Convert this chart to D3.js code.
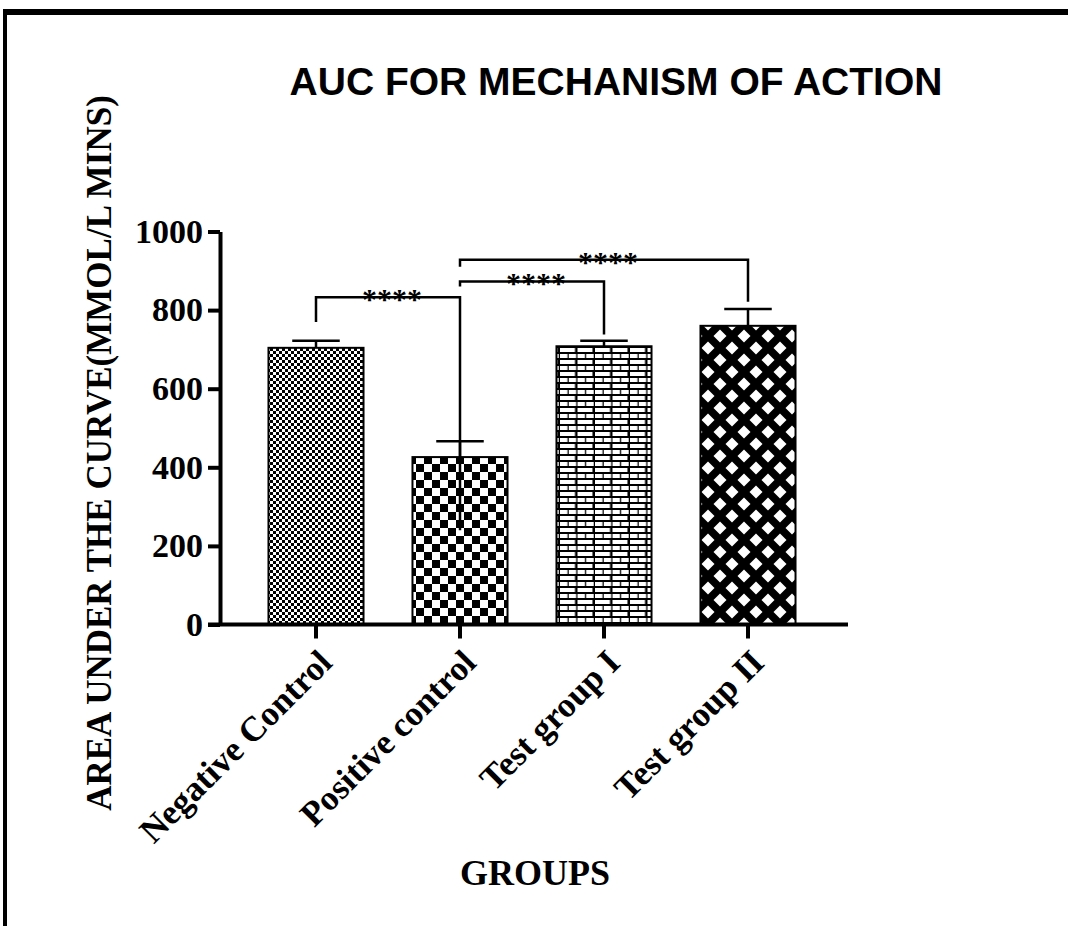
<!DOCTYPE html>
<html>
<head>
<meta charset="utf-8">
<script src="https://cdn.jsdelivr.net/npm/d3@7"></script>
<style>
  html, body { margin: 0; padding: 0; background: #fff; }
  svg { display: block; }
</style>
</head>
<body>
<svg id="chart" width="1068" height="926"></svg>
<script>
// Group means and SEM of area under the glucose curve
const groups = ["Negative Control", "Positive control", "Test group I", "Test group II"];
const means = [704, 426, 708, 760];
const sems = [18, 40, 14, 43];
const yTicks = [0, 200, 400, 600, 800, 1000];
const patterns = ["fineCheck", "bigCheck", "brick", "lattice"];

// Significance brackets: pair of groups, bracket height and leg ends (data units)
const compA = [0, 1, 1];
const compB = [1, 2, 3];
const compLevel = [833, 873, 928];
const compLegA = [770, 860, 910];
const compLegB = [240, 738, 821];
const compLabel = ["****", "****", "****"];

const svg = d3.select("#chart");
const W = 1068, H = 926;
const serif = "'Liberation Serif', 'Times New Roman', serif";
const sans = "'Liberation Sans', Arial, sans-serif";

// Frame lines along the top and left edges
svg.append("rect").attr("x", 3).attr("y", 9).attr("width", W - 3).attr("height", 6).attr("fill", "#000");
svg.append("rect").attr("x", 3).attr("y", 9).attr("width", 4).attr("height", H - 9).attr("fill", "#000");

// Fill patterns
const defs = svg.append("defs");
{
  const p = defs.append("pattern").attr("id", "fineCheck").attr("patternUnits", "userSpaceOnUse")
    .attr("width", 6).attr("height", 6);
  p.append("rect").attr("width", 6).attr("height", 6).attr("fill", "#fff");
  p.append("rect").attr("width", 3).attr("height", 3).attr("fill", "#000");
  p.append("rect").attr("x", 3).attr("y", 3).attr("width", 3).attr("height", 3).attr("fill", "#000");
}
{
  const p = defs.append("pattern").attr("id", "bigCheck").attr("patternUnits", "userSpaceOnUse")
    .attr("width", 16).attr("height", 16);
  p.append("rect").attr("width", 16).attr("height", 16).attr("fill", "#fff");
  p.append("rect").attr("width", 8).attr("height", 8).attr("fill", "#000");
  p.append("rect").attr("x", 8).attr("y", 8).attr("width", 8).attr("height", 8).attr("fill", "#000");
}
{
  const bw = 17.5, rh = 6;
  const p = defs.append("pattern").attr("id", "brick").attr("patternUnits", "userSpaceOnUse")
    .attr("width", bw).attr("height", rh * 2);
  p.append("rect").attr("width", bw).attr("height", rh * 2).attr("fill", "#000");
  p.append("rect").attr("x", 0).attr("y", 0).attr("width", bw - 2.5).attr("height", rh - 2).attr("fill", "#fff");
  p.append("rect").attr("x", bw / 2).attr("y", rh).attr("width", bw / 2 - 1.25).attr("height", rh - 2).attr("fill", "#fff");
  p.append("rect").attr("x", 0).attr("y", rh).attr("width", bw / 2 - 1.25).attr("height", rh - 2).attr("fill", "#fff");
}
{
  const s = 24, r = 6.5;
  const p = defs.append("pattern").attr("id", "lattice").attr("patternUnits", "userSpaceOnUse")
    .attr("width", s).attr("height", s);
  p.append("rect").attr("width", s).attr("height", s).attr("fill", "#000");
  const diamond = (cx, cy) => `M${cx},${cy - r}L${cx + r},${cy}L${cx},${cy + r}L${cx - r},${cy}Z`;
  [[s / 2, s / 2], [0, 0], [s, 0], [0, s], [s, s]].forEach(([cx, cy]) =>
    p.append("path").attr("d", diamond(cx, cy)).attr("fill", "#fff"));
}

// Scales
const axisX = 220;
const x = d3.scaleBand().domain(groups).range([244, 820]).paddingInner(0.34).paddingOuter(0.17);
const y = d3.scaleLinear().domain([0, 1000]).range([624.5, 231.5]);

// Bars
svg.append("g").selectAll("rect").data(groups).join("rect")
  .attr("x", d => x(d))
  .attr("y", (d, i) => y(means[i]))
  .attr("width", x.bandwidth())
  .attr("height", (d, i) => y(0) - y(means[i]))
  .attr("fill", (d, i) => `url(#${patterns[i]})`)
  .attr("stroke", "#000")
  .attr("stroke-width", 2);

// Upper error bars
const cap = x.bandwidth() * 0.5;
const eb = svg.append("g").attr("stroke", "#000").attr("stroke-width", 2.5).attr("fill", "none");
groups.forEach((g, i) => {
  const cx = x(g) + x.bandwidth() / 2;
  eb.append("line").attr("x1", cx).attr("x2", cx).attr("y1", y(means[i])).attr("y2", y(means[i] + sems[i]));
  eb.append("line").attr("x1", cx - cap / 2).attr("x2", cx + cap / 2)
    .attr("y1", y(means[i] + sems[i])).attr("y2", y(means[i] + sems[i]));
});

// Y axis
const yAxis = svg.append("g").attr("transform", `translate(${axisX},0)`)
  .call(d3.axisLeft(y).tickValues(yTicks).tickFormat(d3.format("d"))
    .tickSize(12).tickSizeOuter(0).tickPadding(5));
yAxis.select(".domain").attr("stroke-width", 4);
yAxis.selectAll(".tick line").attr("stroke-width", 4);
yAxis.selectAll(".tick text")
  .attr("font-family", serif).attr("font-weight", "bold").attr("font-size", 34).attr("fill", "#000");

// X axis
const xAxis = svg.append("g").attr("transform", `translate(0,${y(0)})`)
  .call(d3.axisBottom(x).tickSize(14).tickSizeOuter(0).tickFormat(""));
xAxis.select(".domain").remove();
xAxis.selectAll(".tick line").attr("stroke-width", 4);
svg.append("line")
  .attr("x1", axisX - 12).attr("x2", x.range()[1] + 28)
  .attr("y1", y(0)).attr("y2", y(0))
  .attr("stroke", "#000").attr("stroke-width", 4);

// Rotated group labels
svg.append("g").selectAll("text").data(groups).join("text")
  .attr("transform", d => `translate(${x(d) + x.bandwidth() / 2 + 18},${y(0) + 40}) rotate(-45)`)
  .attr("text-anchor", "end")
  .attr("font-family", serif).attr("font-weight", "bold").attr("font-size", 35)
  .text(d => d);

// Significance brackets
const br = svg.append("g");
compA.forEach((a, i) => {
  const xa = x(groups[a]) + x.bandwidth() / 2;
  const xb = x(groups[compB[i]]) + x.bandwidth() / 2;
  br.append("path")
    .attr("d", `M${xa},${y(compLegA[i])}V${y(compLevel[i])}H${xb}V${y(compLegB[i])}`)
    .attr("fill", "none").attr("stroke", "#000").attr("stroke-width", 2.5);
  br.append("text")
    .attr("x", (xa + xb) / 2 + 4).attr("y", y(compLevel[i]) + 12)
    .attr("text-anchor", "middle")
    .attr("font-family", serif).attr("font-weight", "bold").attr("font-size", 30)
    .text(compLabel[i]);
});

// Titles
svg.append("text").attr("x", 616).attr("y", 95).attr("text-anchor", "middle")
  .attr("font-family", sans).attr("font-weight", "bold").attr("font-size", 39)
  .text("AUC FOR MECHANISM OF ACTION");

svg.append("text").attr("transform", "translate(111,453) rotate(-90)").attr("text-anchor", "middle")
  .attr("font-family", serif).attr("font-weight", "bold").attr("font-size", 35)
  .text("AREA UNDER THE CURVE(MMOL/L MINS)");

svg.append("text").attr("x", 535).attr("y", 885).attr("text-anchor", "middle")
  .attr("font-family", serif).attr("font-weight", "bold").attr("font-size", 36)
  .text("GROUPS");
</script>
</body>
</html>
